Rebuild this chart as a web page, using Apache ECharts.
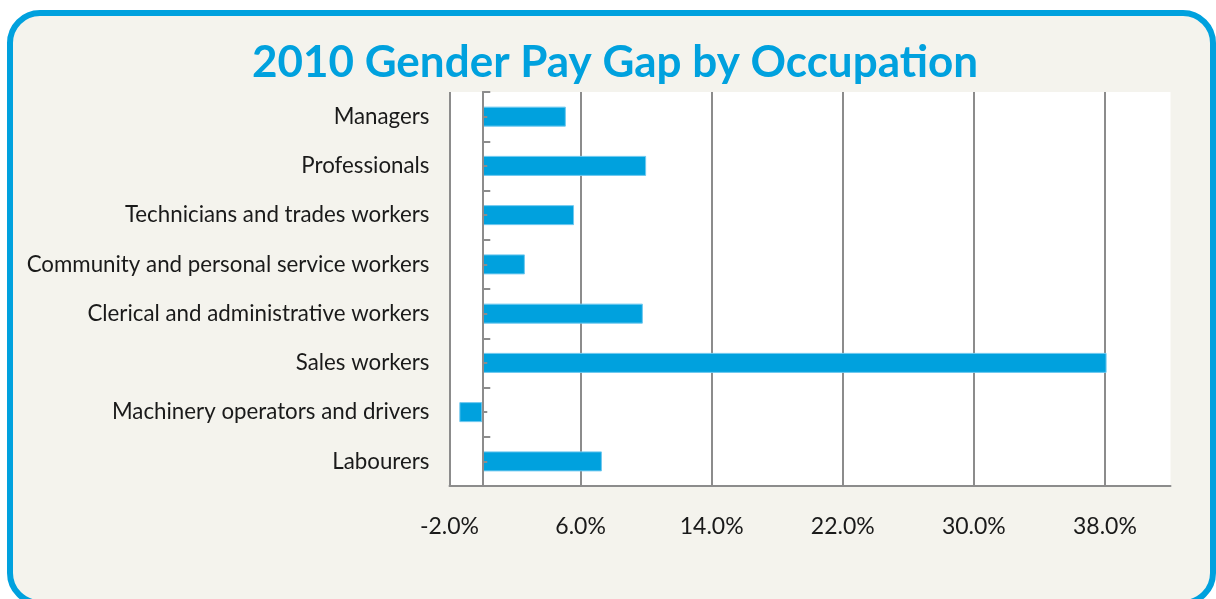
<!DOCTYPE html>
<html>
<head>
<meta charset="utf-8">
<script src="https://cdn.jsdelivr.net/npm/echarts@6/dist/echarts.min.js"></script>
<style>
html,body{margin:0;padding:0;background:#ffffff;}
#chart{width:1216px;height:599px;}
</style>
</head>
<body>
<div id="chart"></div>
<script>
const titleText = '2010 Gender Pay Gap by Occupation';
const categories = [
  'Managers',
  'Professionals',
  'Technicians and trades workers',
  'Community and personal service workers',
  'Clerical and administrative workers',
  'Sales workers',
  'Machinery operators and drivers',
  'Labourers'
];
const payGap = [5.1, 10.0, 5.6, 2.6, 9.8, 38.1, -1.4, 7.3];
const axisMin = -2;
const axisMax = 42;
const axisInterval = 8;

const font = 'Lato, "Open Sans", sans-serif';
const gridGrey = '#8c8c8c';
const blue = '#00a1de';

const chart = echarts.init(document.getElementById('chart'), null, {renderer: 'canvas'});
chart.setOption({
  backgroundColor: '#ffffff',
  animation: false,
  graphic: [{
    type: 'rect',
    z: -10,
    silent: true,
    shape: {x: 10, y: 13, width: 1203, height: 590, r: 30},
    style: {fill: '#f4f3ed', stroke: blue, lineWidth: 6}
  }],
  title: {
    text: titleText,
    left: 610,
    textAlign: 'center',
    top: 36,
    textStyle: {fontFamily: font, fontWeight: 'bold', fontSize: 44, color: '#00a1de'}
  },
  grid: {
    left: 449.5, right: 45.5, top: 92, bottom: 113,
    show: true, backgroundColor: '#ffffff', borderWidth: 0,
    containLabel: false
  },
  xAxis: {
    type: 'value',
    min: axisMin, max: axisMax, interval: axisInterval,
    axisLine: {show: true, onZero: false, lineStyle: {color: gridGrey, width: 2}},
    axisTick: {show: false},
    splitLine: {show: true, lineStyle: {color: [gridGrey, gridGrey, gridGrey, gridGrey, gridGrey, gridGrey, 'rgba(0,0,0,0)'], width: 2}},
    axisLabel: {
      showMaxLabel: false,
      margin: 29,
      fontFamily: font, fontSize: 23, color: '#1a1a1a',
      formatter: v => v.toFixed(1) + '%'
    }
  },
  yAxis: [{
    type: 'category',
    data: categories,
    inverse: true,
    position: 'left',
    z: 5,
    axisLine: {show: true, onZero: true, onZeroAxisIndex: 0, lineStyle: {color: gridGrey, width: 2}},
    axisTick: {show: true, inside: true, length: 8, lineStyle: {color: gridGrey, width: 2}},
    axisLabel: {margin: 20, fontFamily: font, fontSize: 22.3, color: '#1a1a1a'},
    splitLine: {show: false}
  }, {
    type: 'category',
    data: categories,
    inverse: true,
    position: 'left',
    z: 5,
    axisLine: {show: true, onZero: true, onZeroAxisIndex: 0, lineStyle: {color: 'rgba(0,0,0,0)', width: 0}},
    axisTick: {show: true, inside: true, alignWithLabel: true, length: 5, lineStyle: {color: gridGrey, width: 2}},
    axisLabel: {show: false},
    splitLine: {show: false}
  }],
  series: [{
    type: 'bar',
    yAxisIndex: 0,
    data: payGap,
    barWidth: 20,
    itemStyle: {color: blue, borderColor: '#6fc8ef', borderWidth: 1}
  }]
});
</script>
</body>
</html>
